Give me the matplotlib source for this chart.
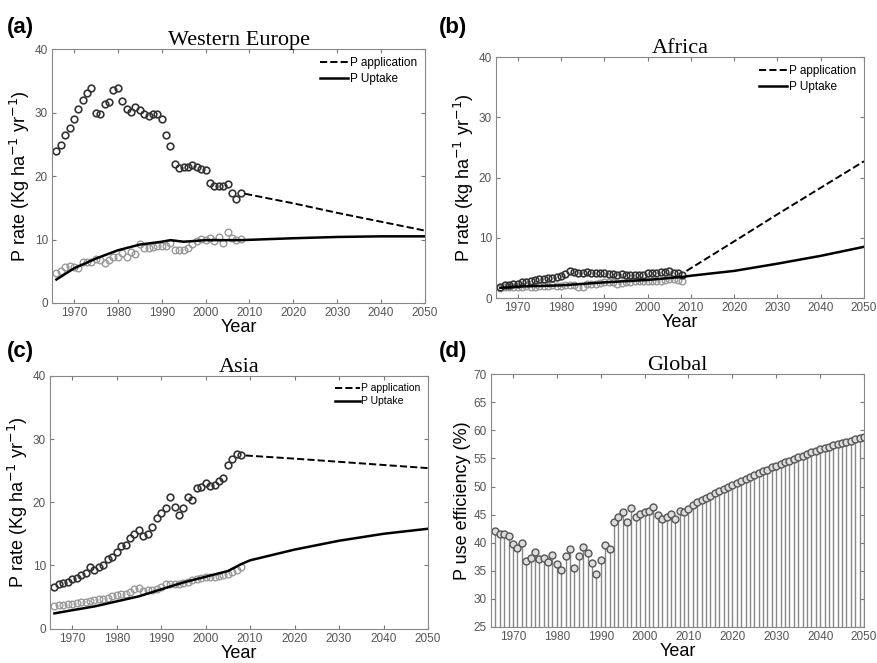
import matplotlib.pyplot as plt

# observed years (circles)
obs_years = list(range(1966, 2009))

# Western Europe
we_app = [24.0, 24.9, 26.5, 27.5, 29.0, 30.6, 32.0, 33.1, 33.8, 29.9, 29.7, 31.4, 31.7, 33.6, 33.9,
          31.8, 30.6, 30.1, 30.9, 30.4, 29.7, 29.5, 29.8, 29.7, 29.0, 26.4, 24.8, 21.9, 21.3, 21.5,
          21.4, 21.8, 21.4, 21.1, 20.9, 18.9, 18.4, 18.5, 18.5, 18.8, 17.4, 16.4, 17.3]
we_upt = [4.8, 5.0, 5.7, 5.8, 5.7, 5.5, 6.4, 6.4, 6.5, 7.0, 6.7, 6.3, 6.8, 7.3, 7.2,
          7.8, 7.3, 8.0, 7.7, 9.3, 8.6, 8.6, 8.8, 9.0, 9.0, 9.0, 9.4, 8.4, 8.4, 8.3,
          8.6, 9.3, 9.7, 10.1, 9.9, 10.2, 9.8, 10.4, 9.4, 11.2, 10.3, 9.9, 10.1]
we_proj_years = [2009, 2020, 2030, 2040, 2050]
we_proj_app = [17.2, 15.7, 14.2, 12.8, 11.4]
we_line_years = [1966, 1970, 1975, 1980, 1985, 1990, 1992, 1995, 2000, 2008, 2020, 2030, 2040, 2050]
we_line_upt = [3.7, 5.45, 7.0, 8.3, 9.2, 9.65, 9.9, 9.65, 9.9, 9.9, 10.2, 10.4, 10.5, 10.5]

# Africa
af_app = [1.9, 2.1, 2.2, 2.3, 2.4, 2.6, 2.7, 2.9, 3.0, 3.1, 3.2, 3.3, 3.4, 3.5, 3.6,
          4.0, 4.5, 4.3, 4.2, 4.2, 4.3, 4.2, 4.2, 4.2, 4.1, 4.0, 4.0, 3.9, 4.0, 3.8,
          3.8, 3.8, 3.9, 3.9, 4.1, 4.2, 4.1, 4.3, 4.3, 4.5, 4.2, 4.1, 3.9]
af_upt = [1.7, 1.8, 1.8, 1.9, 1.9, 1.9, 2.0, 1.9, 1.8, 2.0, 2.0, 2.0, 2.1, 2.0, 2.0,
          2.1, 2.2, 2.1, 1.9, 1.9, 2.3, 2.4, 2.4, 2.5, 2.6, 2.6, 2.7, 2.4, 2.5, 2.6,
          2.6, 2.8, 2.8, 2.8, 2.8, 2.9, 2.9, 2.9, 3.0, 3.1, 3.1, 3.0, 2.9]
af_proj_years = [2009, 2020, 2030, 2040, 2050]
af_proj_app = [4.5, 9.4, 13.9, 18.3, 22.7]
af_line_years = [1966, 1970, 1980, 1990, 2000, 2008, 2010, 2020, 2030, 2040, 2050]
af_line_upt = [1.7, 1.9, 2.1, 2.6, 3.0, 3.5, 3.7, 4.5, 5.7, 7.0, 8.5]

# Asia
as_app = [6.5, 7.1, 7.2, 7.3, 7.8, 8.0, 8.4, 8.8, 9.8, 9.3, 9.7, 10.1, 11.0, 11.3, 12.1,
          13.0, 13.3, 14.3, 14.9, 15.6, 14.7, 15.0, 16.0, 17.5, 18.3, 19.1, 20.8, 19.3, 18.0, 19.1,
          20.8, 20.4, 22.3, 22.4, 23.0, 22.5, 22.8, 23.3, 23.8, 25.9, 26.9, 27.6, 27.4]
as_upt = [3.5, 3.7, 3.8, 3.9, 3.9, 4.1, 4.2, 4.2, 4.3, 4.5, 4.6, 4.7, 4.8, 5.2, 5.3,
          5.4, 5.5, 5.8, 6.2, 6.4, 6.0, 6.1, 6.1, 6.2, 6.6, 7.0, 7.1, 7.0, 7.1, 7.2,
          7.4, 7.7, 7.8, 8.0, 8.2, 8.1, 8.2, 8.3, 8.4, 8.6, 8.9, 9.2, 9.8]
as_proj_years = [2009, 2020, 2030, 2040, 2050]
as_proj_app = [27.4, 26.9, 26.4, 25.9, 25.4]
as_line_years = [1966, 1970, 1975, 1980, 1985, 1990, 1995, 2000, 2005, 2008, 2010, 2020, 2030, 2040, 2050]
as_line_upt = [2.4, 2.9, 3.5, 4.3, 5.1, 6.2, 7.3, 8.2, 9.1, 10.2, 10.8, 12.5, 13.9, 15.0, 15.8]

# Global P use efficiency
gl_years = list(range(1966, 2051))
gl_pue = [42.1, 41.6, 41.5, 41.1, 39.8, 39.0, 39.9, 36.7, 37.3, 38.4, 37.1, 37.2, 36.5, 37.8, 36.2,
          35.1, 37.7, 38.9, 35.5, 37.7, 39.2, 38.2, 36.3, 34.4, 36.9, 39.5, 38.9, 43.6, 44.5, 45.5,
          43.6, 46.1, 44.6, 45.1, 45.4, 45.7, 46.4, 44.9, 44.3, 44.6, 45.1, 44.3, 45.7, 45.5, 46.0,
          46.7, 47.2, 47.6, 48.0, 48.4, 48.8, 49.2, 49.6, 49.9, 50.3, 50.7, 51.0, 51.4, 51.7, 52.1,
          52.4, 52.7, 53.0, 53.4, 53.7, 54.0, 54.3, 54.6, 54.9, 55.2, 55.5, 55.8, 56.1, 56.4, 56.6,
          56.9, 57.1, 57.4, 57.6, 57.8, 58.0, 58.2, 58.4, 58.6, 58.8]

xticks = [1970, 1980, 1990, 2000, 2010, 2020, 2030, 2040, 2050]

fig = plt.figure(figsize=(8.77, 6.63), dpi=100)
plt.rcParams['font.family'] = ['Liberation Sans', 'DejaVu Sans']


def style_axis(ax, title, ylabel):
    ax.set_xlim(1965, 2050)
    ax.set_xticks(xticks)
    ax.tick_params(direction='in', top=True, right=True, labelsize=8.5,
                   labelcolor='#555555', color='#777777', length=3, pad=3)
    for s in ax.spines.values():
        s.set_color('#888888')
    ax.set_title(title, family='Liberation Serif', fontsize=16, pad=3)
    ax.set_ylabel(ylabel, fontsize=13, labelpad=2)
    ax.set_xlabel('Year', fontsize=13, labelpad=0)


def rate_panel(rect, title, ylabel, app, upt, proj_years, proj_app, line_years, line_upt, legsize):
    ax = fig.add_axes(rect)
    ax.plot(obs_years, upt, 'o', mfc='none', mec='#999999', ms=4.8, mew=1)
    ax.plot(obs_years, app, 'o', mfc='none', mec='#333333', ms=4.8, mew=1.2)
    ax.plot(proj_years, proj_app, '--', color='black', lw=1.4, label='P application')
    ax.plot(line_years, line_upt, '-', color='black', lw=1.8, label='P Uptake')
    ax.set_ylim(0, 40)
    ax.set_yticks([0, 10, 20, 30, 40])
    style_axis(ax, title, ylabel)
    ax.legend(loc='upper right', frameon=False, fontsize=legsize, handlelength=2.4,
              handletextpad=0.1, borderaxespad=0.3, labelspacing=0.3)
    return ax


rate_panel([0.0593, 0.543, 0.4253, 0.383], 'Western Europe', 'P rate (Kg ha$^{-1}$ yr$^{-1}$)',
           we_app, we_upt, we_proj_years, we_proj_app, we_line_years, we_line_upt, 8.5)
rate_panel([0.5656, 0.5505, 0.4196, 0.3635], 'Africa', 'P rate (kg ha$^{-1}$ yr$^{-1}$)',
           af_app, af_upt, af_proj_years, af_proj_app, af_line_years, af_line_upt, 8.5)
rate_panel([0.057, 0.052, 0.431, 0.381], 'Asia', 'P rate (Kg ha$^{-1}$ yr$^{-1}$)',
           as_app, as_upt, as_proj_years, as_proj_app, as_line_years, as_line_upt, 7.5)

# Global stems
ax = fig.add_axes([0.5599, 0.0545, 0.4253, 0.381])
ax.vlines(gl_years, 25, gl_pue, color='#888888', lw=1)
ax.plot(gl_years, gl_pue, 'o', mfc='#dddddd', mec='#555555', ms=5, mew=1)
ax.set_ylim(25, 70)
ax.set_yticks(range(25, 71, 5))
style_axis(ax, 'Global', 'P use efficiency (%)')

for lab, x, y in [('(a)', 0.008, 0.975), ('(b)', 0.5, 0.975), ('(c)', 0.008, 0.485), ('(d)', 0.5, 0.485)]:
    fig.text(x, y, lab, fontsize=16, fontweight='bold', va='top')

fig.savefig('out.png', dpi=100)
